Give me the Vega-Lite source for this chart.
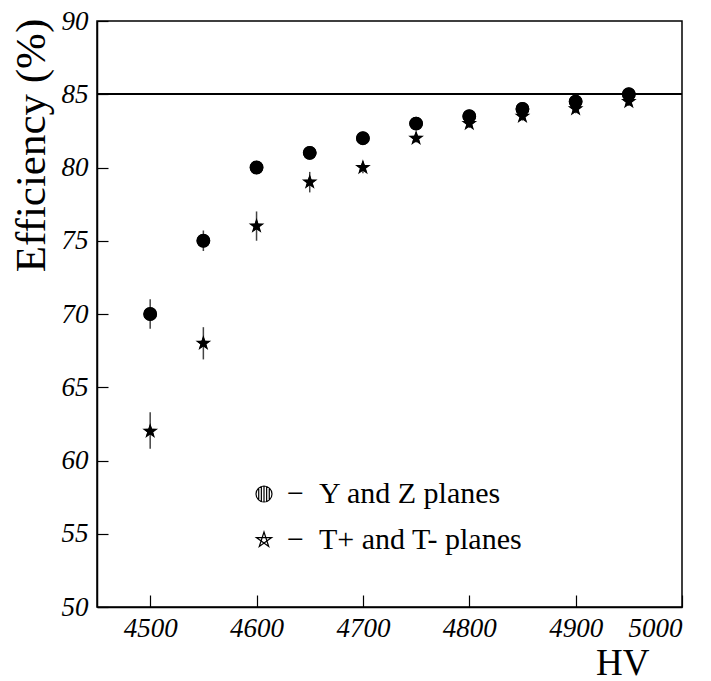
{
  "$schema": "https://vega.github.io/schema/vega-lite/v6.json",
  "width": 585,
  "height": 586,
  "autosize": {"type": "none"},
  "padding": {"left": 97, "top": 21, "right": 29, "bottom": 74},
  "background": "white",
  "config": {
    "font": "Liberation Serif",
    "view": {"stroke": "black", "strokeWidth": 1.5},
    "axis": {
      "grid": false,
      "domainColor": "black",
      "domainWidth": 1.5,
      "tickColor": "black",
      "tickWidth": 1.2,
      "labelFont": "Liberation Serif",
      "labelFontStyle": "italic",
      "labelFontSize": 27,
      "labelColor": "black",
      "titleFont": "Liberation Serif",
      "titleFontWeight": "normal",
      "titleColor": "black"
    },
    "legend": {"labelFont": "Liberation Serif"}
  },
  "resolve": {"scale": {"shape": "independent"}},
  "data": {
    "values": [
      {"series": "Y and Z planes", "hv": 4500, "eff": 70, "lo": 69, "hi": 71},
      {"series": "Y and Z planes", "hv": 4550, "eff": 75, "lo": 74.3, "hi": 75.7},
      {"series": "Y and Z planes", "hv": 4600, "eff": 80, "lo": 79.6, "hi": 80.4},
      {"series": "Y and Z planes", "hv": 4650, "eff": 81, "lo": 80.6, "hi": 81.4},
      {"series": "Y and Z planes", "hv": 4700, "eff": 82, "lo": 81.7, "hi": 82.3},
      {"series": "Y and Z planes", "hv": 4750, "eff": 83, "lo": 82.7, "hi": 83.3},
      {"series": "Y and Z planes", "hv": 4800, "eff": 83.5, "lo": 83.2, "hi": 83.8},
      {"series": "Y and Z planes", "hv": 4850, "eff": 84, "lo": 83.7, "hi": 84.3},
      {"series": "Y and Z planes", "hv": 4900, "eff": 84.5, "lo": 84.2, "hi": 84.8},
      {"series": "Y and Z planes", "hv": 4950, "eff": 85, "lo": 84.7, "hi": 85.3},
      {"series": "T+ and T- planes", "hv": 4500, "eff": 62, "lo": 60.8, "hi": 63.3},
      {"series": "T+ and T- planes", "hv": 4550, "eff": 68, "lo": 66.9, "hi": 69.1},
      {"series": "T+ and T- planes", "hv": 4600, "eff": 76, "lo": 75, "hi": 77},
      {"series": "T+ and T- planes", "hv": 4650, "eff": 79, "lo": 78.3, "hi": 79.7},
      {"series": "T+ and T- planes", "hv": 4700, "eff": 80, "lo": 79.6, "hi": 80.4},
      {"series": "T+ and T- planes", "hv": 4750, "eff": 82, "lo": 81.7, "hi": 82.3},
      {"series": "T+ and T- planes", "hv": 4800, "eff": 83, "lo": 82.7, "hi": 83.3},
      {"series": "T+ and T- planes", "hv": 4850, "eff": 83.5, "lo": 83.2, "hi": 83.8},
      {"series": "T+ and T- planes", "hv": 4900, "eff": 84, "lo": 83.7, "hi": 84.3},
      {"series": "T+ and T- planes", "hv": 4950, "eff": 84.5, "lo": 84.2, "hi": 84.8}
    ]
  },
  "encoding": {
    "x": {
      "field": "hv", "type": "quantitative",
      "scale": {"domain": [4450, 5000], "nice": false, "zero": false},
      "axis": {
        "title": "HV", "values": [4500, 4600, 4700, 4800, 4900, 5000], "format": "d",
        "tickSize": -12, "labelPadding": 20,
        "titleFontSize": 37, "titleX": 552, "titleY": 67,
        "titleAlign": "right", "titleBaseline": "alphabetic"
      }
    }
  },
  "layer": [
    {
      "mark": {"type": "rule", "stroke": "black", "strokeWidth": 1},
      "encoding": {"x": null, "y": {"datum": 85, "type": "quantitative"}}
    },
    {
      "mark": {"type": "rule", "stroke": "#444", "strokeWidth": 1.5},
      "encoding": {
        "y": {"field": "lo", "type": "quantitative"},
        "y2": {"field": "hi"}
      }
    },
    {
      "mark": {"type": "point", "filled": false, "color": "black", "strokeWidth": 1.2, "opacity": 1, "size": 160},
      "encoding": {
        "y": {"field": "eff", "type": "quantitative"},
        "shape": {
          "field": "series", "type": "nominal",
          "scale": {
            "domain": ["Y and Z planes", "T+ and T- planes"],
            "range": [
              "M-1,0A1,1,0,1,1,1,0A1,1,0,1,1,-1,0Z M-0.66,-0.75L-0.66,0.75 M-0.33,-0.94L-0.33,0.94 M0,-1L0,1 M0.33,-0.94L0.33,0.94 M0.66,-0.75L0.66,0.75",
              "M0,-1L0.588,0.809L-0.951,-0.309L0.951,-0.309L-0.588,0.809Z"
            ]
          },
          "legend": {
            "title": null,
            "orient": "none",
            "legendX": 152,
            "legendY": 458,
            "padding": 0,
            "symbolSize": 256,
            "symbolStrokeWidth": 1.2,
            "labelFont": "Liberation Serif",
            "labelFontSize": 30,
            "labelColor": "black",
            "labelOffset": 8,
            "labelLimit": 400,
            "rowPadding": 16,
            "labelExpr": "'\u2212\u00a0\u00a0' + datum.label"
          }
        }
      }
    },
    {
      "mark": {"type": "point", "filled": true, "color": "black", "opacity": 1, "size": 185},
      "encoding": {
        "y": {
          "field": "eff", "type": "quantitative",
          "scale": {"domain": [50, 90], "nice": false, "zero": false},
          "axis": {
            "title": "Efficiency (%)", "values": [50, 55, 60, 65, 70, 75, 80, 85, 90], "format": "d",
            "tickSize": -11, "labelPadding": 20,
            "titleFontSize": 43, "titleAngle": -90, "titleX": -53, "titleY": 124,
            "titleAlign": "center", "titleBaseline": "alphabetic"
          }
        },
        "shape": {
          "field": "series", "type": "nominal",
          "scale": {
            "domain": ["Y and Z planes", "T+ and T- planes"],
            "range": ["circle", "M0,-1L0.2645,-0.364L0.951,-0.309L0.428,0.139L0.588,0.809L0,0.45L-0.588,0.809L-0.428,0.139L-0.951,-0.309L-0.2645,-0.364Z"]
          },
          "legend": null
        }
      }
    }
  ]
}
